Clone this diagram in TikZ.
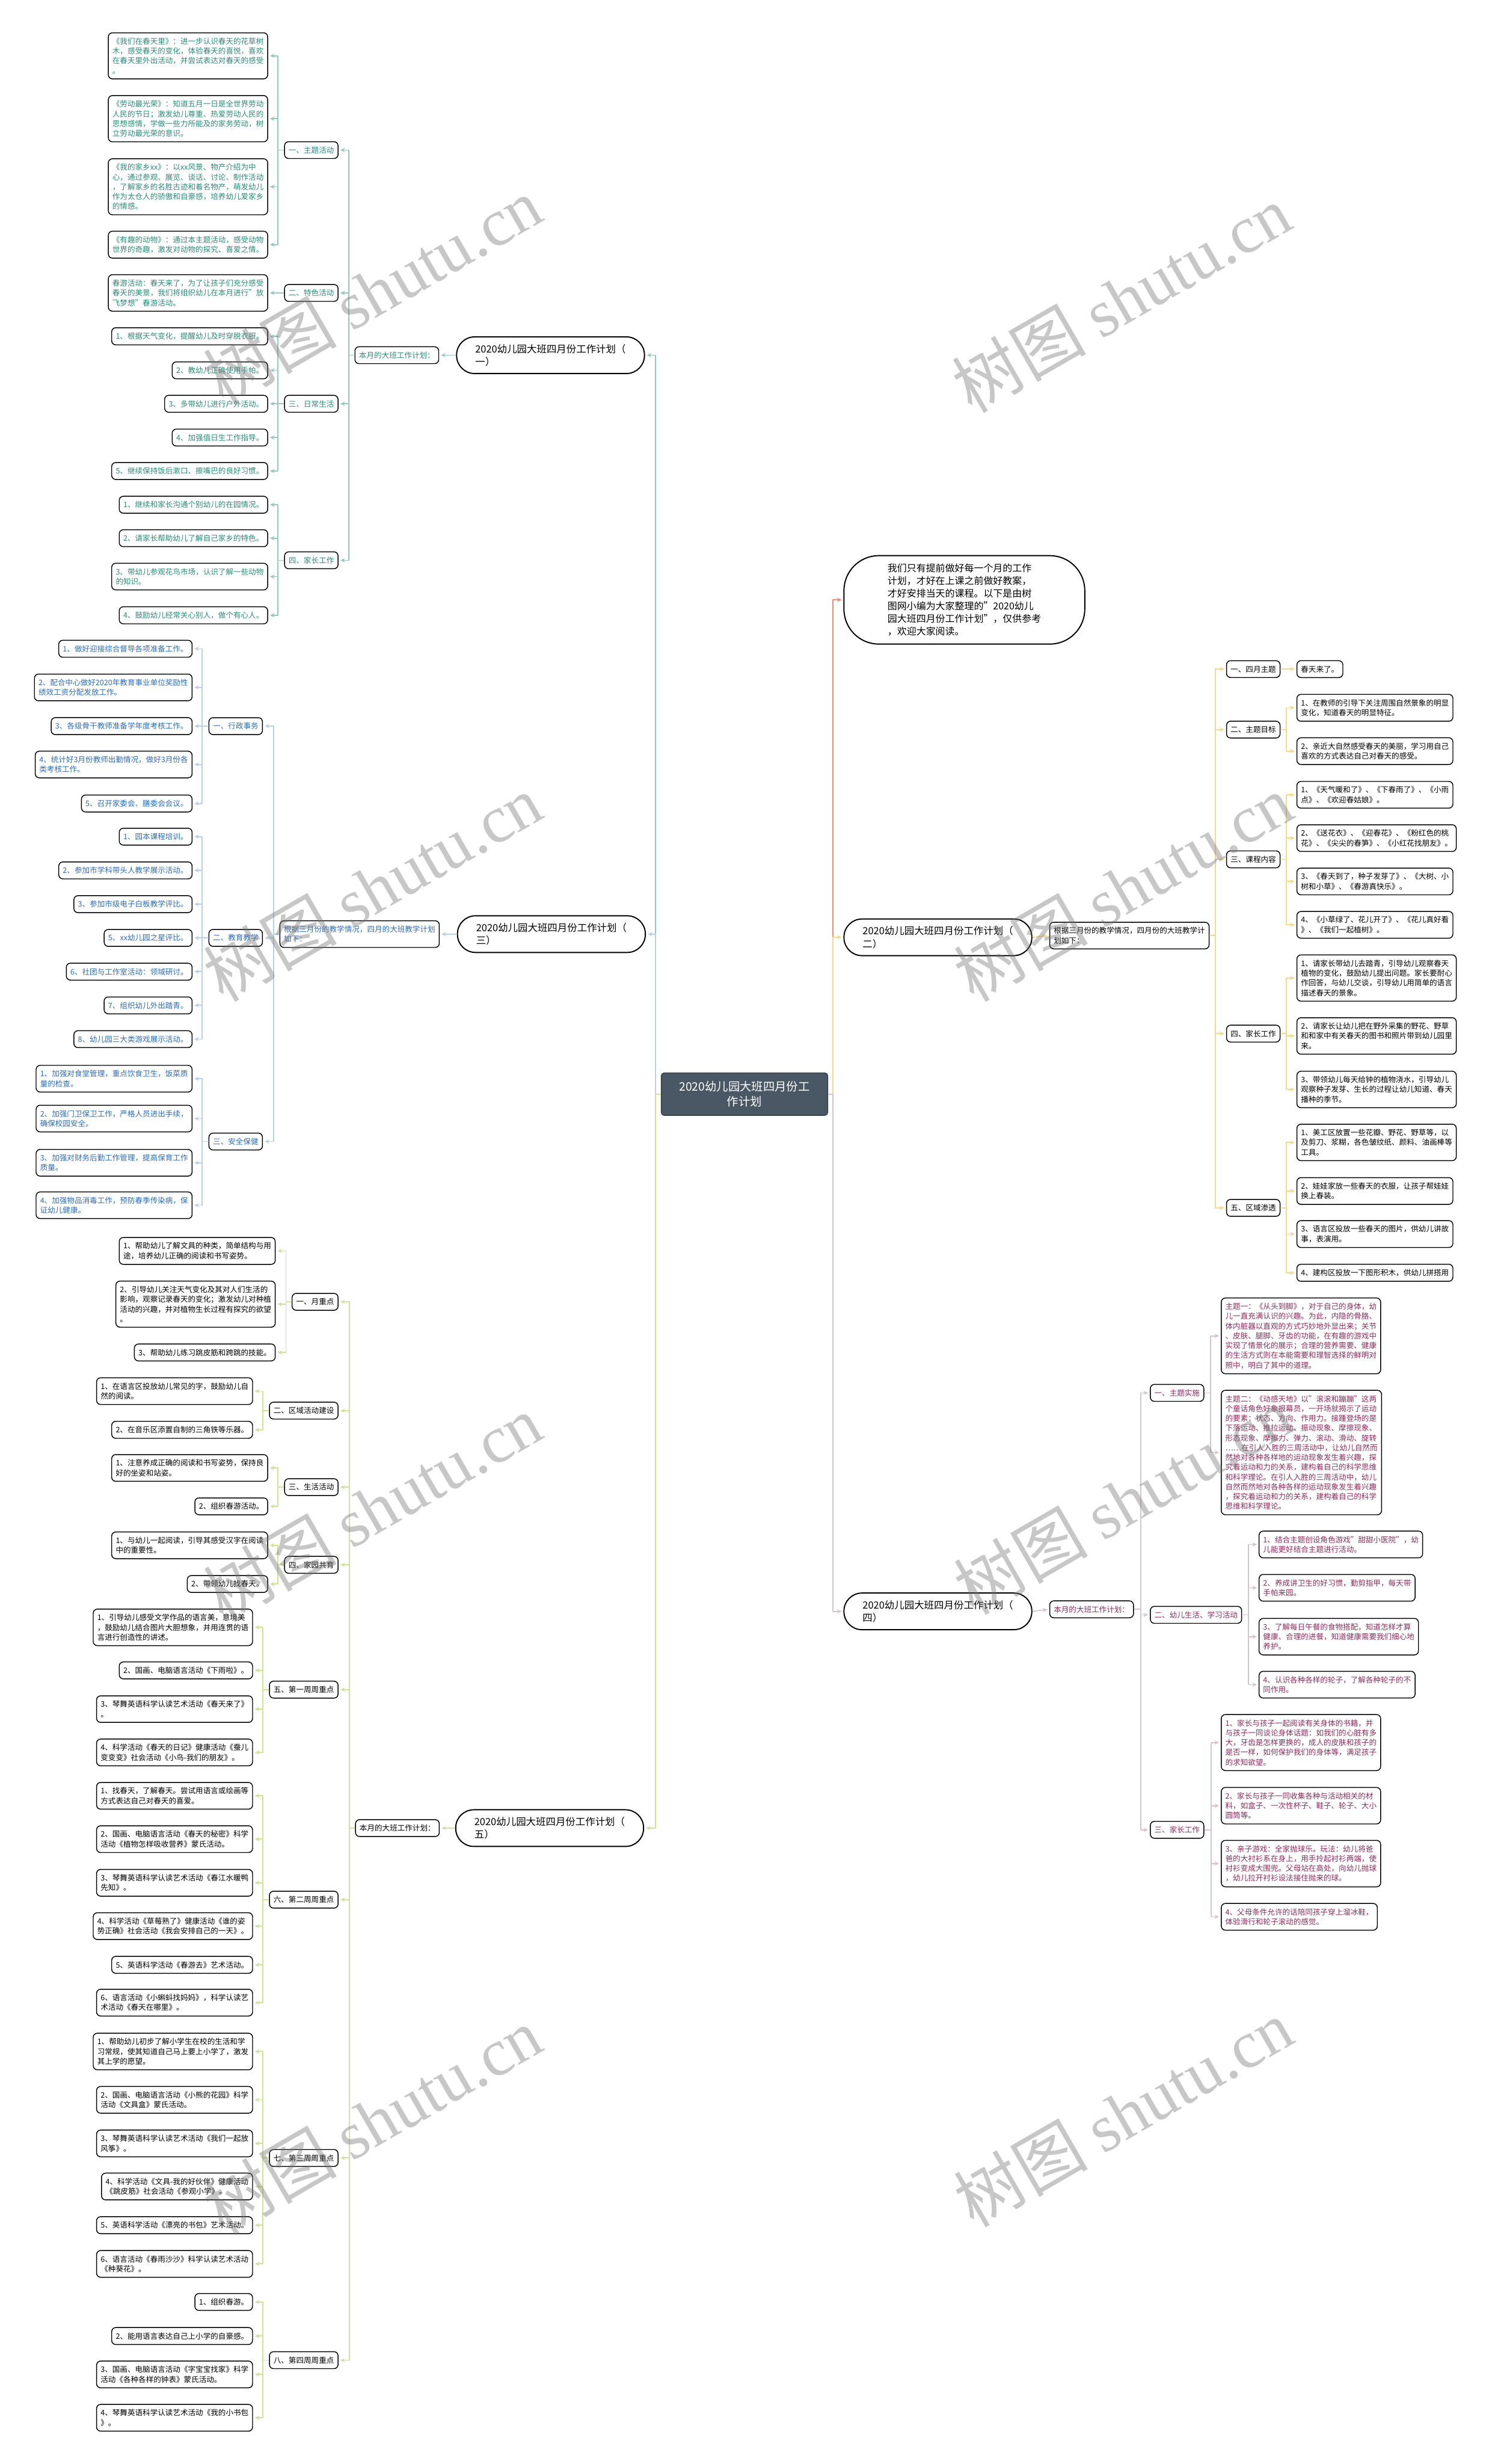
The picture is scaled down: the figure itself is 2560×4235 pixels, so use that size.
\documentclass[tikz,border=0pt]{standalone}
\usepackage{fontspec}
\setmainfont{Noto Sans CJK SC}
\newfontfamily\wmfont{Liberation Serif}
\usetikzlibrary{arrows.meta}
\definecolor{tealL}{HTML}{93CABD}
\definecolor{tealT}{HTML}{2B8A7A}
\definecolor{blueL}{HTML}{B9D0E6}
\definecolor{blueT}{HTML}{2D6DB4}
\definecolor{grnL}{HTML}{CFE29A}
\definecolor{orgL}{HTML}{EA8C6E}
\definecolor{goldL}{HTML}{F2D98E}
\definecolor{pinkL}{HTML}{D8C2CE}
\definecolor{plumT}{HTML}{8A2C5C}
\definecolor{ctrF}{HTML}{4A5866}
\newcommand\lf{\fontsize{13}{16.8}\selectfont}
\newcommand\pf{\fontsize{17}{22}\selectfont}
\begin{document}
\begin{tikzpicture}[x=1pt,y=-1pt,
 box/.style={draw=black,line width=1.5pt,rounded corners=7pt,fill=white,inner xsep=7pt,inner ysep=8.5pt,align=left,font=\lf},
 lbox/.style={box,anchor=east},
 rbox/.style={box,anchor=west},
 parnode/.style={draw=black,line width=2pt,rounded corners=31pt,fill=white,minimum width=323pt,minimum height=63pt,align=left,font=\pf},
 arr/.style={line width=1.8pt,line join=round,-{Stealth[length=8pt,width=7pt]},shorten >=3pt},
 wm/.style={rotate=30,text=black!55,text opacity=0.4,font=\fontsize{115}{120}\selectfont}
]
\useasboundingbox (0,0) rectangle (2560,4235);
\fill[white] (0,0) rectangle (2560,4235);

% centre
\node[fill=ctrF,draw=ctrF!70!black,line width=1.5pt,rounded corners=5pt,minimum width=286pt,minimum height=73pt,text=white,align=center,font=\fontsize{20}{26}\selectfont] (ctr) at (1280,1880.5) {2020幼儿园大班四月份工\\作计划};

% ================= (一) =================
\node[parnode] (P1) at (946.5,610.5) {2020幼儿园大班四月份工作计划（\\一）};
\node[lbox,text=tealT] (L1) at (755,610.5) {本月的大班工作计划：};
\node[lbox,text=tealT] (A) at (582,258) {一、主题活动};
\node[lbox,text=tealT] (B) at (582,503.5) {二、特色活动};
\node[lbox,text=tealT] (C) at (582,694) {三、日常生活};
\node[lbox,text=tealT] (D) at (582,963) {四、家长工作};
\node[lbox,text=tealT] (A1) at (461,96) {《我们在春天里》：进一步认识春天的花草树\\木，感受春天的变化，体验春天的喜悦，喜欢\\在春天里外出活动，并尝试表达对春天的感受\\。};
\node[lbox,text=tealT] (A2) at (461,204) {《劳动最光荣》：知道五月一日是全世界劳动\\人民的节日；激发幼儿尊重、热爱劳动人民的\\思想感情，学做一些力所能及的家务劳动，树\\立劳动最光荣的意识。};
\node[lbox,text=tealT] (A3) at (461,321) {《我的家乡xx》：以xx风景、物产介绍为中\\心，通过参观、展览、谈话、讨论、制作活动\\，了解家乡的名胜古迹和着名物产，萌发幼儿\\作为太仓人的骄傲和自豪感，培养幼儿爱家乡\\的情感。};
\node[lbox,text=tealT] (A4) at (461,420.5) {《有趣的动物》：通过本主题活动，感受动物\\世界的奇趣，激发对动物的探究、喜爱之情。};
\node[lbox,text=tealT] (B1) at (461,503.5) {春游活动：春天来了，为了让孩子们充分感受\\春天的美景，我们将组织幼儿在本月进行"放\\飞梦想"春游活动。};
\node[lbox,text=tealT] (C1) at (461,578) {1、根据天气变化，提醒幼儿及时穿脱衣服。};
\node[lbox,text=tealT] (C2) at (461,636.5) {2、教幼儿正确使用手帕。};
\node[lbox,text=tealT] (C3) at (461,694) {3、多带幼儿进行户外活动。};
\node[lbox,text=tealT] (C4) at (461,752) {4、加强值日生工作指导。};
\node[lbox,text=tealT] (C5) at (461,809.5) {5、继续保持饭后漱口、擦嘴巴的良好习惯。};
\node[lbox,text=tealT] (D1) at (461,867.5) {1、继续和家长沟通个别幼儿的在园情况。};
\node[lbox,text=tealT] (D2) at (461,925) {2、请家长帮助幼儿了解自己家乡的特色。};
\node[lbox,text=tealT] (D3) at (461,991) {3、带幼儿参观花鸟市场，认识了解一些动物\\的知识。};
\node[lbox,text=tealT] (D4) at (461,1057.5) {4、鼓励幼儿经常关心别人，做个有心人。};

\draw[arr,tealL] (ctr.west) -- ++(-9,0) |- (P1.east);
\draw[arr,tealL] (P1.west) -- (L1.east);
\foreach \n in {A,B,C,D} \draw[arr,tealL] (L1.west) -- ++(-10,0) |- (\n.east);
\foreach \n in {A1,A2,A3,A4} \draw[arr,tealL] (A.west) -- ++(-11,0) |- (\n.east);
\draw[arr,tealL] (B.west) -- (B1.east);
\foreach \n in {C1,C2,C3,C4,C5} \draw[arr,tealL] (C.west) -- ++(-11,0) |- (\n.east);
\foreach \n in {D1,D2,D3,D4} \draw[arr,tealL] (D.west) -- ++(-11,0) |- (\n.east);

% ================= (三) =================
\node[parnode] (P3) at (948,1605.5) {2020幼儿园大班四月份工作计划（\\三）};
\node[lbox,text=blueT] (L3) at (756,1605.5) {根据三月份的教学情况，四月的大班教学计划\\如下：};
\node[lbox,text=blueT] (E) at (452,1248) {一、行政事务};
\node[lbox,text=blueT] (F) at (452,1612) {二、教育教学};
\node[lbox,text=blueT] (G) at (452,1962) {三、安全保健};
\node[lbox,text=blueT] (E1) at (331,1115) {1、做好迎接综合督导各项准备工作。};
\node[lbox,text=blueT] (E2) at (331,1181.5) {2、配合中心做好2020年教育事业单位奖励性\\绩效工资分配发放工作。};
\node[lbox,text=blueT] (E3) at (331,1248) {3、各级骨干教师准备学年度考核工作。};
\node[lbox,text=blueT] (E4) at (331,1314) {4、统计好3月份教师出勤情况，做好3月份各\\类考核工作。};
\node[lbox,text=blueT] (E5) at (331,1381) {5、召开家委会、膳委会会议。};
\node[lbox,text=blueT] (F1) at (331,1438) {1、园本课程培训。};
\node[lbox,text=blueT] (F2) at (331,1496) {2、参加市学科带头人教学展示活动。};
\node[lbox,text=blueT] (F3) at (331,1554) {3、参加市级电子白板教学评比。};
\node[lbox,text=blueT] (F4) at (331,1612) {5、xx幼儿园之星评比。};
\node[lbox,text=blueT] (F5) at (331,1670) {6、社团与工作室活动：领域研讨。};
\node[lbox,text=blueT] (F6) at (331,1728) {7、组织幼儿外出踏青。};
\node[lbox,text=blueT] (F7) at (331,1786) {8、幼儿园三大类游戏展示活动。};
\node[lbox,text=blueT] (G1) at (331,1854) {1、加强对食堂管理，重点饮食卫生，饭菜质\\量的检查。};
\node[lbox,text=blueT] (G2) at (331,1922.5) {2、加强门卫保卫工作，严格人员进出手续，\\确保校园安全。};
\node[lbox,text=blueT] (G3) at (331,1998.5) {3、加强对财务后勤工作管理，提高保育工作\\质量。};
\node[lbox,text=blueT] (G4) at (331,2071.5) {4、加强物品消毒工作，预防春季传染病，保\\证幼儿健康。};

\draw[arr,blueL] (ctr.west) -- ++(-9,0) |- (P3.east);
\draw[arr,blueL] (P3.west) -- (L3.east);
\foreach \n in {E,F,G} \draw[arr,blueL] (L3.west) -- ++(-10,0) |- (\n.east);
\foreach \n in {E1,E2,E3,E4,E5} \draw[arr,blueL] (E.west) -- ++(-11,0) |- (\n.east);
\foreach \n in {F1,F2,F3,F4,F5,F6,F7} \draw[arr,blueL] (F.west) -- ++(-11,0) |- (\n.east);
\foreach \n in {G1,G2,G3,G4} \draw[arr,blueL] (G.west) -- ++(-11,0) |- (\n.east);

% ================= (五) =================
\node[parnode] (P5) at (945,3142) {2020幼儿园大班四月份工作计划（\\五）};
\node[lbox] (L5) at (756,3142) {本月的大班工作计划：};
\node[lbox] (H) at (582,2237.5) {一、月重点};
\node[lbox] (J) at (582,2424.5) {二、区域活动建设};
\node[lbox] (K) at (582,2556) {三、生活活动};
\node[lbox] (M) at (582,2689.5) {四、家园共育};
\node[lbox] (N) at (582,2904) {五、第一周周重点};
\node[lbox] (O) at (582,3265) {六、第二周周重点};
\node[lbox] (Q) at (582,3709) {七、第三周周重点};
\node[lbox] (R) at (582,4056.5) {八、第四周周重点};
\node[lbox] (H1) at (474,2150) {1、帮助幼儿了解文具的种类，简单结构与用\\途，培养幼儿正确的阅读和书写姿势。};
\node[lbox] (H2) at (474,2241.5) {2、引导幼儿关注天气变化及其对人们生活的\\影响，观察记录春天的变化；激发幼儿对种植\\活动的兴趣，并对植物生长过程有探究的欲望\\。};
\node[lbox] (H3) at (474,2324.5) {3、帮助幼儿练习跳皮筋和跨跳的技能。};
\node[lbox] (J1) at (435,2391) {1、在语言区投放幼儿常见的字，鼓励幼儿自\\然的阅读。};
\node[lbox] (J2) at (435,2457.5) {2、在音乐区添置自制的三角铁等乐器。};
\node[lbox] (K1) at (461,2523) {1、注意养成正确的阅读和书写姿势，保持良\\好的坐姿和站姿。};
\node[lbox] (K2) at (461,2589) {2、组织春游活动。};
\node[lbox] (M1) at (461,2656) {1、与幼儿一起阅读，引导其感受汉字在阅读\\中的重要性。};
\node[lbox] (M2) at (461,2722.5) {2、带领幼儿找春天。};
\node[lbox] (N1) at (435,2797) {1、引导幼儿感受文学作品的语言美，意境美\\，鼓励幼儿结合图片大胆想象，并用连贯的语\\言进行创造性的讲述。};
\node[lbox] (N2) at (435,2871) {2、国画、电脑语言活动《下雨啦》。};
\node[lbox] (N3) at (435,2937.5) {3、琴舞英语科学认读艺术活动《春天来了》\\。};
\node[lbox] (N4) at (435,3012) {4、科学活动《春天的日记》健康活动《蚕儿\\变变变》社会活动《小鸟-我们的朋友》。};
\node[lbox] (O1) at (435,3086.5) {1、找春天，了解春天。尝试用语言或绘画等\\方式表达自己对春天的喜爱。};
\node[lbox] (O2) at (435,3161) {2、国画、电脑语言活动《春天的秘密》科学\\活动《植物怎样吸收营养》蒙氏活动。};
\node[lbox] (O3) at (435,3236) {3、琴舞英语科学认读艺术活动《春江水暖鸭\\先知》。};
\node[lbox] (O4) at (435,3310.5) {4、科学活动《草莓熟了》健康活动《谁的姿\\势正确》社会活动《我会安排自己的一天》。};
\node[lbox] (O5) at (435,3377) {5、英语科学活动《春游去》艺术活动。};
\node[lbox] (O6) at (435,3442) {6、语言活动《小蝌蚪找妈妈》，科学认读艺\\术活动《春天在哪里》。};
\node[lbox] (Q1) at (435,3526) {1、帮助幼儿初步了解小学生在校的生活和学\\习常规，使其知道自己马上要上小学了，激发\\其上学的愿望。};
\node[lbox] (Q2) at (435,3609) {2、国画、电脑语言活动《小熊的花园》科学\\活动《文具盒》蒙氏活动。};
\node[lbox] (Q3) at (435,3684) {3、琴舞英语科学认读艺术活动《我们一起放\\风筝》。};
\node[lbox] (Q4) at (435,3758) {4、科学活动《文具-我的好伙伴》健康活动\\《跳皮筋》社会活动《参观小学》。};
\node[lbox] (Q5) at (435,3824.5) {5、英语科学活动《漂亮的书包》艺术活动。};
\node[lbox] (Q6) at (435,3891) {6、语言活动《春雨沙沙》科学认读艺术活动\\《种葵花》。};
\node[lbox] (R1) at (435,3956.5) {1、组织春游。};
\node[lbox] (R2) at (435,4015) {2、能用语言表达自己上小学的自豪感。};
\node[lbox] (R3) at (435,4081) {3、国画、电脑语言活动《字宝宝找家》科学\\活动《各种各样的钟表》蒙氏活动。};
\node[lbox] (R4) at (435,4155.5) {4、琴舞英语科学认读艺术活动《我的小书包\\》。};

\draw[arr,grnL] (ctr.west) -- ++(-9,0) |- (P5.east);
\draw[arr,grnL] (P5.west) -- (L5.east);
\foreach \n in {H,J,K,M,N,O,Q,R} \draw[arr,grnL] (L5.west) -- ++(-10,0) |- (\n.east);
\foreach \n in {H1,H2,H3} \draw[arr,grnL] (H.west) -- ++(-10,0) |- (\n.east);
\foreach \n in {J1,J2} \draw[arr,grnL] (J.west) -- ++(-11,0) |- (\n.east);
\foreach \n in {K1,K2} \draw[arr,grnL] (K.west) -- ++(-11,0) |- (\n.east);
\foreach \n in {M1,M2} \draw[arr,grnL] (M.west) -- ++(-11,0) |- (\n.east);
\foreach \n in {N1,N2,N3,N4} \draw[arr,grnL] (N.west) -- ++(-11,0) |- (\n.east);
\foreach \n in {O1,O2,O3,O4,O5,O6} \draw[arr,grnL] (O.west) -- ++(-11,0) |- (\n.east);
\foreach \n in {Q1,Q2,Q3,Q4,Q5,Q6} \draw[arr,grnL] (Q.west) -- ++(-11,0) |- (\n.east);
\foreach \n in {R1,R2,R3,R4} \draw[arr,grnL] (R.west) -- ++(-11,0) |- (\n.east);

% ================= intro =================
\node[draw=black,line width=2pt,rounded corners=60pt,fill=white,minimum width=414pt,minimum height=152pt,align=left,font=\fontsize{16.5}{21.7}\selectfont] (I) at (1658,1031) {我们只有提前做好每一个月的工作\\计划，才好在上课之前做好教案，\\才好安排当天的课程。以下是由树\\图网小编为大家整理的"2020幼儿\\园大班四月份工作计划"，仅供参考\\，欢迎大家阅读。};
\draw[arr,orgL] (ctr.east) -- ++(8,0) |- (I.west);

% ================= (二) =================
\node[parnode,anchor=west] (P2) at (1450,1611) {2020幼儿园大班四月份工作计划（\\二）};
\node[rbox] (L2) at (1804,1608) {根据三月份的教学情况，四月份的大班教学计\\划如下：};
\node[rbox] (S) at (2108,1150) {一、四月主题};
\node[rbox] (T) at (2108,1254) {二、主题目标};
\node[rbox] (U) at (2108,1477) {三、课程内容};
\node[rbox] (V) at (2108,1776.5) {四、家长工作};
\node[rbox] (W) at (2108,2076) {五、区域渗透};
\node[rbox] (S1) at (2229,1150) {春天来了。};
\node[rbox] (T1) at (2229,1216.5) {1、在教师的引导下关注周围自然景象的明显\\变化，知道春天的明显特征。};
\node[rbox] (T2) at (2229,1291) {2、亲近大自然感受春天的美丽，学习用自己\\喜欢的方式表达自己对春天的感受。};
\node[rbox] (U1) at (2229,1366) {1、《天气暖和了》、《下春雨了》、《小雨\\点》、《欢迎春姑娘》。};
\node[rbox] (U2) at (2229,1440.5) {2、《送花衣》、《迎春花》、《粉红色的桃\\花》、《尖尖的春笋》、《小红花找朋友》。};
\node[rbox] (U3) at (2229,1515) {3、《春天到了，种子发芽了》、《大树、小\\树和小草》、《春游真快乐》。};
\node[rbox] (U4) at (2229,1589.5) {4、《小草绿了、花儿开了》、《花儿真好看\\》、《我们一起植树》。};
\node[rbox] (V1) at (2229,1681) {1、请家长带幼儿去踏青，引导幼儿观察春天\\植物的变化，鼓励幼儿提出问题。家长要耐心\\作回答，与幼儿交谈，引导幼儿用简单的语言\\描述春天的景象。};
\node[rbox] (V2) at (2229,1780.5) {2、请家长让幼儿把在野外采集的野花、野草\\和和家中有关春天的图书和照片带到幼儿园里\\来。};
\node[rbox] (V3) at (2229,1872.5) {3、带领幼儿每天给钟的植物浇水，引导幼儿\\观察种子发芽、生长的过程让幼儿知道、春天\\播种的季节。};
\node[rbox] (W1) at (2229,1963.5) {1、美工区放置一些花瓣、野花、野草等，以\\及剪刀、浆糊，各色皱纹纸、颜料、油画棒等\\工具。};
\node[rbox] (W2) at (2229,2047) {2、娃娃家放一些春天的衣服，让孩子帮娃娃\\换上春装。};
\node[rbox] (W3) at (2229,2121) {3、语言区投放一些春天的图片，供幼儿讲故\\事，表演用。};
\node[rbox] (W4) at (2229,2187.5) {4、建构区投放一下图形积木，供幼儿拼搭用};

\draw[arr,goldL] (ctr.east) -- ++(8,0) |- (P2.west);
\draw[arr,goldL] (P2.east) -- (L2.west);
\foreach \n in {S,T,U,V,W} \draw[arr,goldL] (L2.east) -- ++(10,0) |- (\n.west);
\draw[arr,goldL] (S.east) -- (S1.west);
\foreach \n in {T1,T2} \draw[arr,goldL] (T.east) -- ++(10,0) |- (\n.west);
\foreach \n in {U1,U2,U3,U4} \draw[arr,goldL] (U.east) -- ++(10,0) |- (\n.west);
\foreach \n in {V1,V2,V3} \draw[arr,goldL] (V.east) -- ++(10,0) |- (\n.west);
\foreach \n in {W1,W2,W3,W4} \draw[arr,goldL] (W.east) -- ++(10,0) |- (\n.west);

% ================= (四) =================
\node[parnode,anchor=west] (P4) at (1450,2769.5) {2020幼儿园大班四月份工作计划（\\四）};
\node[rbox,text=plumT] (L4) at (1804,2766) {本月的大班工作计划：};
\node[rbox,text=plumT] (X) at (1977,2394) {一、主题实施};
\node[rbox,text=plumT] (Y) at (1977,2775.5) {二、幼儿生活、学习活动};
\node[rbox,text=plumT] (Z) at (1977,3145) {三、家长工作};
\node[rbox,text=plumT] (X1) at (2099,2296) {主题一：《从头到脚》，对于自己的身体，幼\\儿一直充满认识的兴趣。为此，内隐的骨胳、\\体内脏器以直观的方式巧妙地外显出来；关节\\、皮肤、腿脚、牙齿的功能，在有趣的游戏中\\实现了情景化的展示；合理的营养需要、健康\\的生活方式则在本能需要和理智选择的鲜明对\\照中，明白了其中的道理。};
\node[rbox,text=plumT] (X2) at (2099,2496.5) {主题二：《动感天地》以"滚滚和蹦蹦"这两\\个童话角色好象报幕员，一开场就揭示了运动\\的要素：状态、方向、作用力。接踵登场的是\\下落运动、推拉运动、振动现象、摩擦现象、\\形态现象、摩擦力、弹力、滚动、滑动、旋转\\……在引人入胜的三周活动中，让幼儿自然而\\然地对各种各样地的运动现象发生着兴趣，探\\究着运动和力的关系，建构着自己的科学思维\\和科学理论。在引人入胜的三周活动中，幼儿\\自然而然地对各种各样的运动现象发生着兴趣\\，探究着运动和力的关系，建构着自己的科学\\思维和科学理论。};
\node[rbox,text=plumT] (Y1) at (2164,2654.5) {1、结合主题创设角色游戏"甜甜小医院"，幼\\儿能更好结合主题进行活动。};
\node[rbox,text=plumT] (Y2) at (2164,2729) {2、养成讲卫生的好习惯，勤剪指甲，每天带\\手帕来园。};
\node[rbox,text=plumT] (Y3) at (2164,2813) {3、了解每日午餐的食物搭配，知道怎样才算\\健康、合理的进餐，知道健康需要我们细心地\\养护。};
\node[rbox,text=plumT] (Y4) at (2164,2895.5) {4、认识各种各样的轮子，了解各种轮子的不\\同作用。};
\node[rbox,text=plumT] (Z1) at (2099,2995) {1、家长与孩子一起阅读有关身体的书籍，并\\与孩子一同谈论身体话题：如我们的心脏有多\\大，牙齿是怎样更换的，成人的皮肤和孩子的\\是否一样，如何保护我们的身体等，满足孩子\\的求知欲望。};
\node[rbox,text=plumT] (Z2) at (2099,3103.5) {2、家长与孩子一同收集各种与活动相关的材\\料，如盒子、一次性杯子、鞋子、轮子、大小\\圆筒等。};
\node[rbox,text=plumT] (Z3) at (2099,3203) {3、亲子游戏：全家抛球乐。玩法：幼儿将爸\\爸的大衬衫系在身上，用手拎起衬衫两端，使\\衬衫变成大围兜。父母站在高处，向幼儿抛球\\，幼儿拉开衬衫设法接住抛来的球。};
\node[rbox,text=plumT] (Z4) at (2099,3294.5) {4、父母条件允许的话陪同孩子穿上溜冰鞋，\\体验滑行和轮子滚动的感觉。};

\draw[arr,pinkL] (ctr.east) -- ++(8,0) |- (P4.west);
\draw[arr,pinkL] (P4.east) -- (L4.west);
\foreach \n in {X,Y,Z} \draw[arr,pinkL] (L4.east) -- ++(12,0) |- (\n.west);
\foreach \n in {X1,X2} \draw[arr,pinkL] (X.east) -- ++(11,0) |- (\n.west);
\foreach \n in {Y1,Y2,Y3,Y4} \draw[arr,pinkL] (Y.east) -- ++(11,0) |- (\n.west);
\foreach \n in {Z1,Z2,Z3,Z4} \draw[arr,pinkL] (Z.east) -- ++(12,0) |- (\n.west);

% ================= watermarks =================
\foreach \wx/\wy [count=\i] in {640/500,1928/513,640/1526,1931/1526,640/2592,1931/2579,640/3645,1931/3632}
  \node[wm] (wm\i) at (\wx,\wy) {树图 {\wmfont shutu.cn}};
\end{tikzpicture}
\end{document}
